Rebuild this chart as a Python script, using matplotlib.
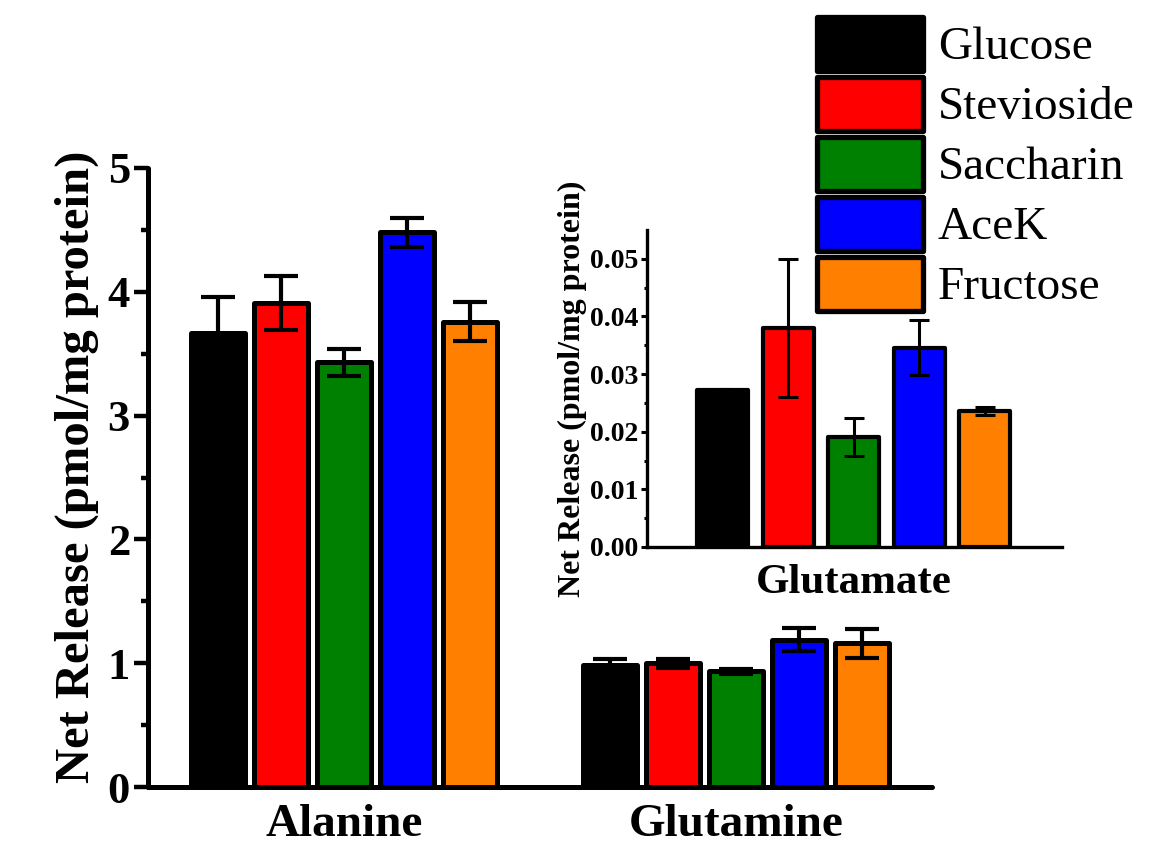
import numpy as np
import matplotlib
matplotlib.use("Agg")
import matplotlib.pyplot as plt
from matplotlib.patches import Rectangle

# Data
sweeteners = ["Glucose", "Stevioside", "Saccharin", "AceK", "Fructose"]
colors = ["#000000", "#FF0000", "#008000", "#0000FF", "#FF8000"]

main_groups = ["Alanine", "Glutamine"]
alanine = [3.67, 3.91, 3.43, 4.48, 3.76]
alanine_err = [0.29, 0.22, 0.11, 0.12, 0.155]
glutamine = [0.985, 1.00, 0.935, 1.19, 1.16]
glutamine_err = [0.05, 0.035, 0.02, 0.095, 0.115]

inset_group = ["Glutamate"]
glutamate = [0.0272, 0.0380, 0.0190, 0.0346, 0.0236]
glutamate_err = [0.0002, 0.012, 0.0033, 0.0047, 0.0007]

main_yticks = [0, 1, 2, 3, 4, 5]
inset_yticks = [0.00, 0.01, 0.02, 0.03, 0.04, 0.05]

plt.rcParams["font.family"] = ["Liberation Serif", "DejaVu Serif"]

fig = plt.figure(figsize=(11.55, 8.48), dpi=100)
fig.patch.set_facecolor("white")

# ---- main axes ----
ax = fig.add_axes([0.1281, 0.0719, 0.6788, 0.7300])
step = 0.1607
width = 0.138
group_pos = np.arange(len(main_groups))
for i, (name, c) in enumerate(zip(sweeteners, colors)):
    vals = [alanine[i], glutamine[i]]
    errs = [alanine_err[i], glutamine_err[i]]
    x = group_pos + (i - 2) * step
    ax.bar(x, vals, width, color=c, edgecolor="black", linewidth=3.6,
           joinstyle="round", zorder=2, label=name)
    ax.errorbar(x, vals, yerr=errs, fmt="none", ecolor="black",
                elinewidth=3.0, capsize=12, capthick=3.0, zorder=3)

ax.set_xlim(-0.5, 1.5)
ax.set_ylim(0, 5)
ax.set_yticks(main_yticks)
ax.set_yticks(np.arange(0.5, 5, 1.0), minor=True)
ax.set_xticks(group_pos, main_groups)
for s in ["top", "right"]:
    ax.spines[s].set_visible(False)
for s in ["left", "bottom"]:
    ax.spines[s].set_linewidth(3.6)
    ax.spines[s].set_capstyle("round")
ax.tick_params(axis="y", which="major", length=10, width=3.2, direction="out",
               labelsize=32, pad=3)
ax.tick_params(axis="y", which="minor", length=5, width=3.2, direction="out")
ax.tick_params(axis="x", length=0, labelsize=34, pad=12)
for lab in ax.get_xticklabels() + ax.get_yticklabels():
    lab.set_fontweight("bold")
ax.set_ylabel("Net Release (pmol/mg protein)", fontsize=35, fontweight="bold")
ax.yaxis.set_label_coords(-0.063, 0.517)
ax.set_facecolor("none")

# ---- inset axes ----
ins = fig.add_axes([0.5602, 0.3550, 0.3593, 0.3738])
istep = 1.0
iwidth = 0.78
for i, (name, c) in enumerate(zip(sweeteners, colors)):
    x = (i - 2) * istep
    ins.bar(x, glutamate[i], iwidth, color=c, edgecolor="black",
            linewidth=3.0, joinstyle="round", zorder=2)
    ins.errorbar(x, glutamate[i], yerr=glutamate_err[i], fmt="none",
                 ecolor="black", elinewidth=2.2, capsize=7, capthick=2.2,
                 zorder=3)
ins.set_xlim(-3.16, 3.18)
ins.set_ylim(0, 0.055)
ins.set_yticks(inset_yticks, [f"{v:.2f}" for v in inset_yticks])
ins.set_yticks(np.arange(0.005, 0.055, 0.01), minor=True)
ins.set_xticks([0], inset_group)
for s in ["top", "right"]:
    ins.spines[s].set_visible(False)
for s in ["left", "bottom"]:
    ins.spines[s].set_linewidth(2.4)
ins.tick_params(axis="y", which="major", length=4.5, width=2.2, direction="out",
                labelsize=20, pad=2)
ins.tick_params(axis="y", which="minor", length=2.5, width=2.2, direction="out")
ins.tick_params(axis="x", length=0, labelsize=31, pad=12)
for lab in ins.get_xticklabels() + ins.get_yticklabels():
    lab.set_fontweight("bold")
ins.set_ylabel("Net Release (pmol/mg protein)", fontsize=23, fontweight="bold")
ins.yaxis.set_label_coords(-0.145, 0.5)
ins.set_facecolor("none")

# ---- legend: stacked colour boxes with names ----
W, H = 1155.0, 848.0
box_left, box_w = 816.5, 106.0
box_top0, box_h, box_pitch = 16.5, 54.0, 60.0
for i, (name, c) in enumerate(zip(sweeteners, colors)):
    top = box_top0 + i * box_pitch
    rect = Rectangle((box_left / W, 1 - (top + box_h) / H), box_w / W, box_h / H,
                     transform=fig.transFigure, facecolor=c, edgecolor="black",
                     linewidth=3.8, joinstyle="round")
    fig.add_artist(rect)
    fig.text(938 / W, 1 - (top + box_h / 2 + 4) / H, name, fontsize=34,
             ha="left", va="center")

fig.savefig("out.png", dpi=100, facecolor="white")
